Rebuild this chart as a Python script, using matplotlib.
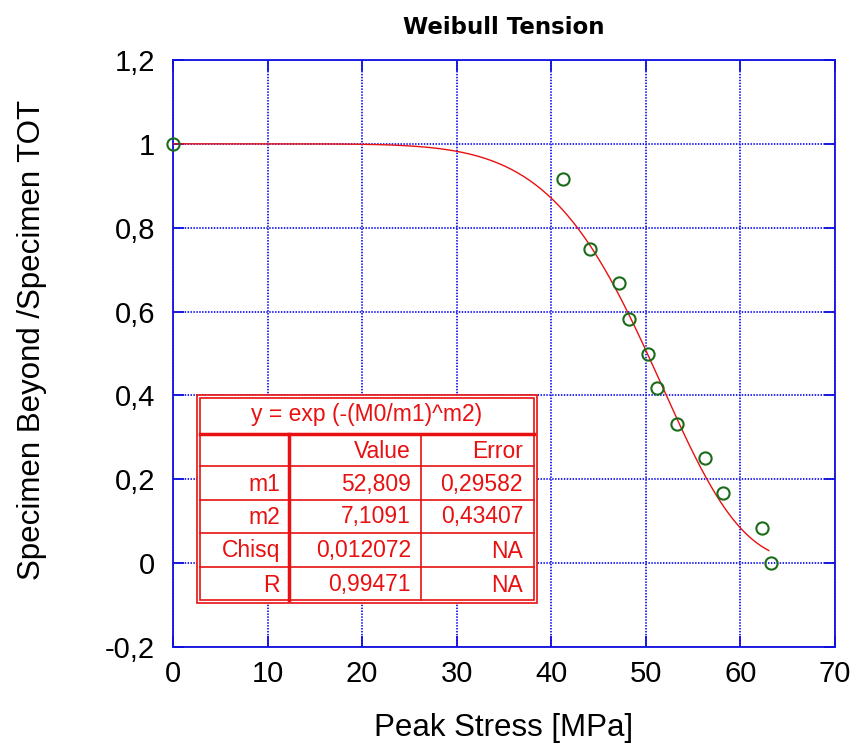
import numpy as np
import matplotlib
matplotlib.use("Agg")
import matplotlib.pyplot as plt
from matplotlib.ticker import FuncFormatter, MultipleLocator

plt.rcParams['font.family'] = ['Liberation Sans', 'DejaVu Sans']

# measured data
stress = [0, 41.2, 44.1, 47.2, 48.2, 50.2, 51.2, 53.3, 56.3, 58.2, 62.3, 63.2]
beyond = [1.0, 0.917, 0.75, 0.667, 0.583, 0.5, 0.417, 0.333, 0.25, 0.167, 0.083, 0.0]

# fit results from the table
m1 = 52.809
m2 = 7.1091
row_names = ["m1", "m2", "Chisq", "R"]
row_values = ["52,809", "7,1091", "0,012072", "0,99471"]
row_errors = ["0,29582", "0,43407", "NA", "NA"]

W, H = 859, 748
fig = plt.figure(figsize=(W / 100, H / 100), dpi=100)
ax = fig.add_axes([173 / W, 1 - 647 / H, (835 - 173) / W, (647 - 60) / H])

blue = "#1010e0"
red = "#e81010"
green = "#1a6b1a"

xf = np.linspace(0, 63, 300)
ax.plot(xf, np.exp(-(xf / m1) ** m2), color=red, lw=1.0, zorder=3)
ax.plot(stress, beyond, "o", mfc="none", mec=green, mew=1.5, ms=8.8, zorder=4, clip_on=False)

ax.set_xlim(0, 70)
ax.set_ylim(-0.2, 1.2)
ax.xaxis.set_major_locator(MultipleLocator(10))
ax.yaxis.set_major_locator(MultipleLocator(0.2))

def comma(v, pos):
    s = "%g" % round(v, 6)
    return s.replace(".", ",")

ax.xaxis.set_major_formatter(FuncFormatter(comma))
ax.yaxis.set_major_formatter(FuncFormatter(comma))
ax.grid(True, color="#2828f0", ls=(0, (0.75, 0.75)), lw=1.4)
for sp in ax.spines.values():
    sp.set_color(blue)
    sp.set_linewidth(1.3)
ax.tick_params(direction="in", length=8, width=1.3, color=blue, labelsize=21,
               top=True, right=True)
ax.tick_params(axis="x", pad=9)
ax.tick_params(axis="y", pad=13)

ax.set_xlabel("Peak Stress [MPa]", fontsize=22.5)
ax.xaxis.set_label_coords(0.5, -0.112)
ax.set_ylabel("Specimen Beyond /Specimen TOT", fontsize=22.5)
ax.yaxis.set_label_coords(-0.19, 0.523)
ax.set_title("Weibull Tension", fontsize=16.5, fontweight="bold",
             family="DejaVu Sans", pad=19)

# fit table drawn in pixel coordinates on an overlay
ov = fig.add_axes([0, 0, 1, 1], facecolor="none")
ov.set_xlim(0, W)
ov.set_ylim(H, 0)
ov.axis("off")

x0, x1, y0, y1 = 197, 537, 395, 603
ov.add_patch(plt.Rectangle((x0, y0), x1 - x0, y1 - y0, fc="white", ec=red, lw=1.2))
ov.add_patch(plt.Rectangle((x0 + 3, y0 + 3), x1 - x0 - 6, y1 - y0 - 6, fc="none", ec=red, lw=1.2))
ov.plot([x0 + 3, x1 - 3], [434, 434], color=red, lw=2.5)
ov.plot([289, 289], [434, y1 - 3], color=red, lw=2.5)
ov.plot([421, 421], [434, y1 - 3], color=red, lw=1.2)
row_lines = [466, 500, 533, 567]
for yy in row_lines:
    ov.plot([x0 + 3, x1 - 3], [yy, yy], color=red, lw=1.2)

tk = dict(color=red, fontsize=16.5, va="center")
ov.text((x0 + x1) / 2, 414, "y = exp (-(M0/m1)^m2)", ha="center", **tk)
ov.text(411, 451, "Value", ha="right", **tk)
ov.text(523, 451, "Error", ha="right", **tk)
row_mid = [484, 517, 551, 585]
for i in range(4):
    ov.text(280, row_mid[i], row_names[i], ha="right", **tk)
    ov.text(411, row_mid[i], row_values[i], ha="right", **tk)
    ov.text(523, row_mid[i], row_errors[i], ha="right", **tk)

fig.savefig("out.png", dpi=100)
